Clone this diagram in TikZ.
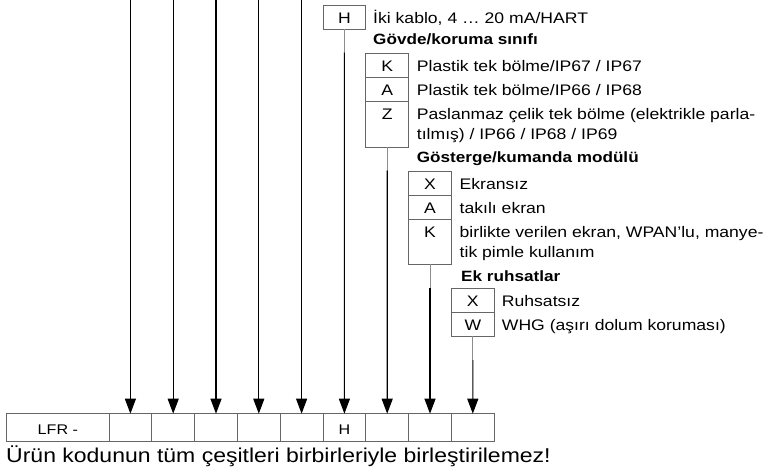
\documentclass[tikz,border=0pt]{standalone}
\usepackage{fontspec}
\setmainfont{Liberation Sans}[FakeStretch=1.15]
\usetikzlibrary{arrows.meta}
\begin{document}
\begin{tikzpicture}[x=1pt,y=-1pt,
  box/.style={draw=black!60, line width=0.7pt, inner sep=0pt, outer sep=0pt, minimum width=42.8pt},
  dsc/.style={anchor=base west, inner sep=0pt, font=\fontsize{15.3}{20}\selectfont},
  hdr/.style={anchor=base west, inner sep=0pt, font=\fontsize{14.9}{20}\selectfont\bfseries},
  ltr/.style={anchor=base, inner sep=0pt, font=\fontsize{15.3}{20}\selectfont},
  ltrs/.style={anchor=base, inner sep=0pt, font=\fontsize{14}{18}\selectfont},
  vline/.style={line width=1.1pt, black},
  arr/.style={vline, -{Triangle[length=15pt,width=11pt]}},
  stub/.style={line width=1pt, black!45}]
\useasboundingbox (0,0) rectangle (763,472);

% bottom order-code row
\node[box, minimum width=102.3pt, minimum height=27.3pt] (lfr) at (57.85,427.35) {};
\node[ltrs] (lfrt) at (57.85,434.5) {LFR -};
\foreach \i in {1,...,9} {
  \node[box, minimum height=27.3pt] (c\i) at ({109+42.8*(\i-0.5)},427.35) {};
}
\node[ltrs] (c6t) at (344.4,434.5) {H};

% free arrows from the top
\foreach \i in {1,...,5} {
  \coordinate (t\i) at ({109+42.8*(\i-0.5)},0);
  \draw[arr] (t\i) -- (c\i.north);
}

% level 0: H
\node[box, minimum height=24.3pt] (h0) at (344.4,17.15) {};
\node[ltr] (h0t) at (344.4,23) {H};
\node[dsc] (h0d) at (373,23) {İki kablo, 4 … 20 mA/HART};
\coordinate (s6) at (344.4,52.3);
\draw[stub] (h0.south) -- (s6);
\draw[arr] (s6) -- (c6.north);

% level 1: housing
\node[hdr] (hd1) at (373,44) {Gövde/koruma sınıfı};
\node[box, minimum height=24pt] (k1) at (387.2,65.3) {};
\node[box, minimum height=24pt] (a1) at (387.2,89.3) {};
\node[box, minimum height=46pt] (z1) at (387.2,124.3) {};
\node[ltr] (k1t) at (387.2,71) {K};
\node[ltr] (a1t) at (387.2,95) {A};
\node[ltr] (z1t) at (387.2,119) {Z};
\node[dsc] (k1d) at (416.7,71) {Plastik tek bölme/IP67 / IP67};
\node[dsc] (a1d) at (416.7,95) {Plastik tek bölme/IP66 / IP68};
\node[dsc] (z1d) at (416.7,119) {Paslanmaz çelik tek bölme (elektrikle parla-};
\node[dsc] (z1e) at (416.7,139) {tılmış) / IP66 / IP68 / IP69};
\coordinate (s7) at (387.2,170.3);
\draw[stub] (z1.south) -- (s7);
\draw[arr] (s7) -- (c7.north);

% level 2: display
\node[hdr] (hd2) at (416.7,162.7) {Gösterge/kumanda modülü};
\node[box, minimum height=24pt] (x2) at (430,183.5) {};
\node[box, minimum height=24pt] (a2) at (430,207.5) {};
\node[box, minimum height=44.8pt] (k2) at (430,241.9) {};
\node[ltr] (x2t) at (430,189.5) {X};
\node[ltr] (a2t) at (430,213.5) {A};
\node[ltr] (k2t) at (430,237.5) {K};
\node[dsc] (x2d) at (459.5,189.5) {Ekransız};
\node[dsc] (a2d) at (459.5,213.5) {takılı ekran};
\node[dsc] (k2d) at (459.5,237.5) {birlikte verilen ekran, WPAN’lu, manye-};
\node[dsc] (k2e) at (459.5,257.5) {tik pimle kullanım};
\coordinate (s8) at (430,288);
\draw[stub] (k2.south) -- (s8);
\draw[arr] (s8) -- (c8.north);

% level 3: approvals
\node[hdr] (hd3) at (461,281.7) {Ek ruhsatlar};
\node[box, minimum height=23.7pt] (x3) at (472.8,300.55) {};
\node[box, minimum height=23.6pt] (w3) at (472.8,324.2) {};
\node[ltr] (x3t) at (472.8,306.5) {X};
\node[ltr] (w3t) at (472.8,330) {W};
\node[dsc] (x3d) at (501.7,306.5) {Ruhsatsız};
\node[dsc] (w3d) at (501.7,330) {WHG (aşırı dolum koruması)};
\coordinate (s9) at (472.8,360);
\draw[stub] (w3.south) -- (s9);
\draw[arr] (s9) -- (c9.north);

% footnote
\node[anchor=base west, inner sep=0pt, font=\fontsize{20}{24}\selectfont] (note) at (6,462) {Ürün kodunun tüm çeşitleri birbirleriyle birleştirilemez!};
\end{tikzpicture}
\end{document}
